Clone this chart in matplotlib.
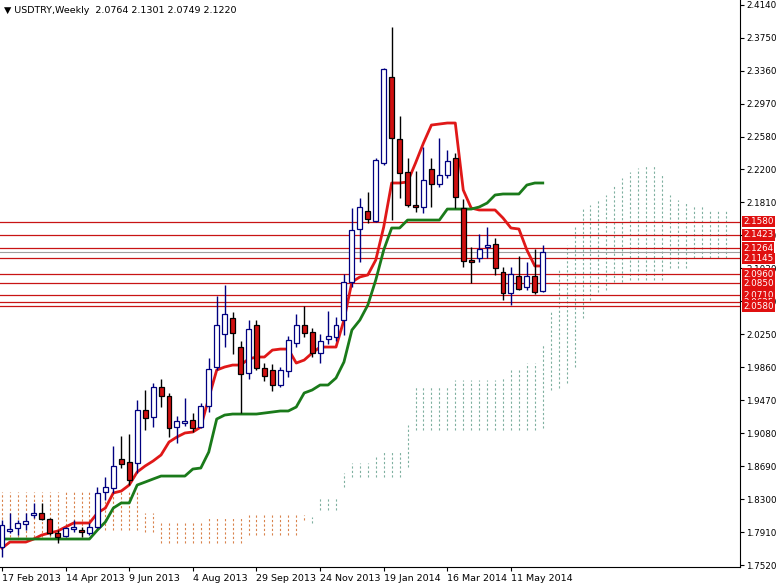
import matplotlib
matplotlib.use("Agg")
import matplotlib.pyplot as plt
import matplotlib.transforms as mtransforms
import numpy as np

# weekly USDTRY candles (index 0 = 17 Feb 2013)
opens = [1.7733, 1.7922, 1.7958, 1.8005, 1.8112, 1.8135, 1.8064, 1.7899, 1.7863, 1.7946,
         1.7934, 1.7899, 1.7970, 1.8384, 1.8431, 1.8774, 1.8738, 1.8726, 1.9353, 1.9270,
         1.9625, 1.9518, 1.9152, 1.9199, 1.9235, 1.9152, 1.9400, 1.9861, 2.0251, 2.0440,
         2.0097, 1.9790, 2.0357, 1.9849, 1.9825, 1.9648, 1.9813, 2.0144, 2.0357, 2.0274,
         2.0026, 2.0192, 2.0215, 2.0416, 2.0866, 2.1492, 2.1705, 2.1587, 2.2272, 2.3289,
         2.2556, 2.2166, 2.1776, 2.1752, 2.2201, 2.2024, 2.2130, 2.2331, 2.1740, 2.1126,
         2.1149, 2.1279, 2.1315, 2.0984, 2.0735, 2.0936, 2.0806, 2.0936, 2.0764]
highs = [1.8052, 1.8135, 1.8053, 1.8135, 1.8254, 1.8254, 1.8076, 1.7934, 1.7970, 1.8053,
         1.7970, 1.8017, 1.8443, 1.8561, 1.8927, 1.9045, 1.9069, 1.9471, 1.9589, 1.9672,
         1.9719, 1.9554, 1.9282, 1.9495, 1.9317, 1.9436, 1.9967, 2.0700, 2.0830, 2.0511,
         2.0168, 2.0416, 2.0416, 1.9908, 1.9896, 1.9861, 2.0227, 2.0487, 2.0582, 2.0322,
         2.0251, 2.0523, 2.0452, 2.0960, 2.1740, 2.1859, 2.1929, 2.2331, 2.3395, 2.3880,
         2.2828, 2.2331, 2.2178, 2.2461, 2.2331, 2.2568, 2.2426, 2.2390, 2.1847, 2.1279,
         2.1433, 2.1516, 2.1386, 2.1043, 2.1043, 2.1173, 2.1102, 2.1256, 2.1301]
lows = [1.7615, 1.7899, 1.7875, 1.7934, 1.8076, 1.8053, 1.7875, 1.7781, 1.7852, 1.7911,
        1.7852, 1.7875, 1.7958, 1.8289, 1.8372, 1.8667, 1.8466, 1.8608, 1.9116, 1.9152,
        1.9388, 1.9034, 1.8963, 1.9164, 1.9093, 1.9140, 1.9329, 1.9825, 2.0097, 2.0014,
        1.9317, 1.9719, 1.9825, 1.9696, 1.9577, 1.9625, 1.9743, 2.0097, 2.0215, 1.9979,
        1.9908, 2.0132, 2.0168, 2.0239, 2.0806, 2.1102, 2.1563, 2.1575, 2.2249, 2.1598,
        2.1858, 2.1752, 2.1693, 2.1681, 2.1752, 2.1988, 2.2095, 2.1740, 2.1043, 2.0854,
        2.1102, 2.1149, 2.0949, 2.0653, 2.0594, 2.0771, 2.0771, 2.0723, 2.0749]
closes = [1.7993, 1.7946, 1.8017, 1.8041, 1.8135, 1.8064, 1.7899, 1.7852, 1.7958, 1.7970,
          1.7911, 1.7970, 1.8372, 1.8443, 1.8691, 1.8715, 1.8525, 1.9353, 1.9258, 1.9625,
          1.9518, 1.9140, 1.9223, 1.9223, 1.9140, 1.9400, 1.9837, 2.0357, 2.0487, 2.0262,
          1.9778, 2.0310, 1.9849, 1.9754, 1.9648, 1.9825, 2.0180, 2.0357, 2.0262, 2.0026,
          2.0168, 2.0227, 2.0357, 2.0866, 2.1480, 2.1752, 2.1610, 2.2308, 2.3383, 2.2568,
          2.2154, 2.1776, 2.1752, 2.2071, 2.2024, 2.2130, 2.2296, 2.1870, 2.1114, 2.1102,
          2.1256, 2.1303, 2.1031, 2.0735, 2.0960, 2.0783, 2.0936, 2.0747, 2.1220]

tenkan = [1.7721, 1.7792, 1.7792, 1.7792, 1.7828, 1.7875, 1.7899, 1.7922, 1.7970, 1.8017,
          1.8017, 1.8017, 1.8135, 1.8194, 1.8372, 1.8395, 1.8466, 1.8620, 1.8691, 1.8750,
          1.8821, 1.8974, 1.9034, 1.9081, 1.9093, 1.9152, 1.9495, 1.9825, 1.9861, 1.9884,
          1.9884, 1.9955, 1.9979, 1.9979, 2.0061, 2.0073, 2.0073, 1.9908, 1.9943, 2.0026,
          2.0097, 2.0097, 2.0097, 2.0416, 2.0866, 2.0925, 2.0949, 2.1126, 2.1516, 2.2036,
          2.2036, 2.2048, 2.2272, 2.2509, 2.2721, 2.2733, 2.2745, 2.2745, 2.1953, 2.1740,
          2.1717, 2.1717, 2.1717, 2.1622, 2.1504, 2.1492, 2.1244, 2.1055, 2.1055]
kijun = [1.7828] * 12 + [
         1.7934, 1.8029, 1.8194, 1.8254, 1.8254, 1.8466, 1.8501, 1.8537,
         1.8572, 1.8572, 1.8572, 1.8572, 1.8655, 1.8667, 1.8856, 1.9246, 1.9293, 1.9305,
         1.9305, 1.9305, 1.9305, 1.9317, 1.9329, 1.9341, 1.9341, 1.9388, 1.9554, 1.9589,
         1.9648, 1.9648, 1.9731, 1.9920, 2.0298, 2.0416, 2.0593, 2.0889, 2.1244, 2.1504,
         2.1504, 2.1598, 2.1598, 2.1598, 2.1598, 2.1598, 2.1728, 2.1728, 2.1728, 2.1728,
         2.1752, 2.1799, 2.1894, 2.1906, 2.1906, 2.1906, 2.2012, 2.2036, 2.2036]

# ichimoku cloud: bearish part (index 0..38), bullish part (index 39..91)
cloud_r_top = [1.8383] * 8 + [1.8383] * 10 + [1.8135] * 2 + [1.8029] * 6 + [1.8088] * 5 + [1.8112] * 8
cloud_r_bot = [1.7852] * 8 + [1.7934] * 10 + [1.7911] * 2 + [1.7781] * 6 + [1.7781] * 5 + [1.7875] * 7 + [1.8053]
cloud_g_top = [1.8088, 1.8324, 1.8324, 1.8324, 1.8608, 1.8726, 1.8726, 1.8726, 1.8797, 1.8856,
               1.8856, 1.8856, 1.9175, 1.9625, 1.9625, 1.9625, 1.9625, 1.9625, 1.9707, 1.9707,
               1.9707, 1.9707, 1.9707, 1.9707, 1.9743, 1.9825, 1.9825, 1.9908, 1.9908, 2.0121,
               2.0535, 2.1007, 2.1303, 2.1539, 2.1740, 2.1776, 2.1835, 2.1894, 2.2012, 2.2095,
               2.2166, 2.2213, 2.2249, 2.2249, 2.2130, 2.1894, 2.1835, 2.1811, 2.1776, 2.1776,
               2.1717, 2.1717, 2.1717]
cloud_g_bot = [1.8017, 1.8170, 1.8170, 1.8170, 1.8443, 1.8561, 1.8561, 1.8561, 1.8561, 1.8561,
               1.8561, 1.8561, 1.8679, 1.9116, 1.9116, 1.9116, 1.9116, 1.9116, 1.9116, 1.9116,
               1.9116, 1.9116, 1.9116, 1.9116, 1.9116, 1.9116, 1.9116, 1.9116, 1.9116, 1.9140,
               1.9589, 1.9613, 1.9672, 1.9861, 2.0440, 2.0653, 2.0747, 2.0771, 2.0865, 2.0865,
               2.0889, 2.0889, 2.0889, 2.0889, 2.0889, 2.1031, 2.1031, 2.1031, 2.1149, 2.1149,
               2.1149, 2.1149, 2.1149]

levels = [2.1580, 2.1423, 2.1264, 2.1145, 2.0960, 2.0850, 2.0710, 2.0625, 2.0580]
price_ticks = [2.4140, 2.3750, 2.3360, 2.2970, 2.2580, 2.2200, 2.1810, 2.1420, 2.1030,
               2.0640, 2.0250, 1.9860, 1.9470, 1.9080, 1.8690, 1.8300, 1.7910, 1.7520]
date_labels = ["17 Feb 2013", "14 Apr 2013", "9 Jun 2013", "4 Aug 2013", "29 Sep 2013",
               "24 Nov 2013", "19 Jan 2014", "16 Mar 2014", "11 May 2014"]
last_close = 2.1220

fig = plt.figure(figsize=(7.76, 5.86), dpi=100)
ax = fig.add_axes([0, 1 - 567 / 586, 740 / 776, 567 / 586])
ax.set_xlim(-0.25, 92.8)
ax.set_ylim(1.7497, 2.4199)

# cloud
xr = np.arange(len(cloud_r_top))
ax.vlines(xr, cloud_r_bot, cloud_r_top, colors="#d9824b", linestyles=(0, (2, 2)), linewidth=0.8)
xg = np.arange(39, 39 + len(cloud_g_top))
ax.vlines(xg, cloud_g_bot, cloud_g_top, colors="#7fb0a0", linestyles=(0, (2, 2)), linewidth=0.8)

# levels
for lv in levels:
    ax.axhline(lv, color="#c81414", linewidth=0.9, zorder=2)
ax.axhline(last_close, color="#a0a0a0", linewidth=0.8, zorder=2)

# lines
x = np.arange(len(tenkan))
ax.plot(x, tenkan, color="#e01818", linewidth=2, zorder=3)
ax.plot(np.arange(len(kijun)), kijun, color="#1a7a1a", linewidth=2, zorder=3)

# candles
w = 0.62
for i in range(len(opens)):
    o, h, l, c = opens[i], highs[i], lows[i], closes[i]
    bull = c >= o
    edge = "#000080" if bull else "#000000"
    ax.vlines(i, l, h, color=edge, linewidth=1, zorder=4)
    lo, hi = min(o, c), max(o, c)
    ax.add_patch(plt.Rectangle((i - w / 2, lo), w, max(hi - lo, 0.0008),
                               facecolor="white" if bull else "#d01010",
                               edgecolor=edge, linewidth=0.9, zorder=5))

# axes style
for s in ["top", "left"]:
    ax.spines[s].set_visible(False)
ax.yaxis.tick_right()
ax.set_yticks(price_ticks)
ax.set_yticklabels([f"{p:.4f}" for p in price_ticks], fontsize=6.3)
ax.tick_params(axis="y", length=3, pad=1.5)
ax.set_xticks(range(0, 72, 8))
ax.set_xticklabels(date_labels, fontsize=6.8, ha="left")
ax.tick_params(axis="x", length=3, pad=2)

trans = mtransforms.blended_transform_factory(ax.transAxes, ax.transData)
for lv in levels:
    ax.text(1.004, lv, f"{lv:.4f}", transform=trans, fontsize=6.3, color="white",
            va="center", ha="left", zorder=10, clip_on=False,
            bbox=dict(boxstyle="square,pad=0.15", facecolor="#e01010", edgecolor="none"))

fig.text(0.005, 0.99, "\u25BC USDTRY,Weekly  2.0764 2.1301 2.0749 2.1220", fontsize=6.8, va="top")

fig.savefig("out.png", dpi=100)
